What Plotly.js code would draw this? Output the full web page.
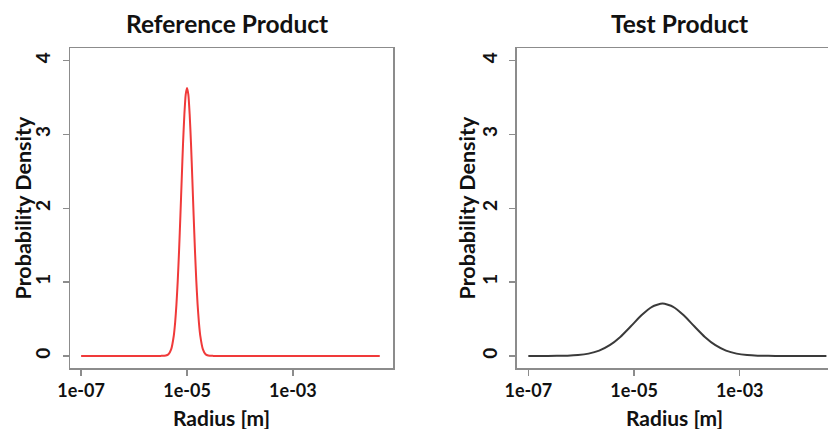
<!DOCTYPE html>
<html><head><meta charset="utf-8">
<script src="https://cdn.plot.ly/plotly-3.0.1.min.js"></script>
<style>html,body{margin:0;padding:0;background:#fff}#c{width:828px;height:429px}</style>
</head><body><div id="c"></div>
<script>
// log10(radius [m]) and probability density
const refLogR = [-7.0, -6.0, -5.6, -5.5, -5.4, -5.35, -5.3, -5.25, -5.225, -5.2, -5.175, -5.15, -5.125, -5.1, -5.075, -5.05, -5.025, -5.0,
                 -4.975, -4.95, -4.925, -4.9, -4.875, -4.85, -4.825, -4.8, -4.775, -4.75, -4.7, -4.65, -4.6, -4.5, -4.4, -4.0, -3.0, -2.0, -1.36];
const refDensity = [0, 0, 0, 0.001, 0.005, 0.023, 0.088, 0.274, 0.448, 0.695, 1.02, 1.43, 1.90, 2.40, 2.88, 3.27, 3.54, 3.63,
                    3.54, 3.27, 2.88, 2.40, 1.90, 1.43, 1.02, 0.695, 0.448, 0.274, 0.088, 0.023, 0.005, 0.001, 0, 0, 0, 0, 0];
const testLogR = [-7.0, -6.8, -6.46, -6.26, -6.06, -5.86, -5.66, -5.46, -5.26, -5.06, -4.86, -4.66, -4.46,
                  -4.26, -4.06, -3.86, -3.66, -3.46, -3.26, -3.06, -2.86, -2.66, -2.46, -2.2, -1.8, -1.36];
const testDensity = [0, 0, 0.0013, 0.0042, 0.0123, 0.0319, 0.0726, 0.146, 0.258, 0.402, 0.551, 0.666, 0.71,
                     0.666, 0.551, 0.402, 0.258, 0.146, 0.0726, 0.0319, 0.0123, 0.0042, 0.0013, 0, 0, 0];
const panelTitles = ["Reference Product", "Test Product"];
const xTickVals = [1e-7, 1e-5, 1e-3];
const xTickText = ["1e-07", "1e-05", "1e-03"];
const yTickVals = [0, 1, 2, 3, 4];
const xLabel = "Radius [m]";
const yLabel = "Probability Density";

const toR = a => a.map(v => Math.pow(10, v));
const FONT = "Lato, 'Open Sans', sans-serif";
const axisColor = "#8c8c8c";

const traces = [
  {x: toR(refLogR), y: refDensity, type: "scatter", mode: "lines", xaxis: "x", yaxis: "y",
   line: {color: "#f03a3a", width: 2, shape: "spline", smoothing: 0.6}, hoverinfo: "none"},
  {x: toR(testLogR), y: testDensity, type: "scatter", mode: "lines", xaxis: "x2", yaxis: "y2",
   line: {color: "#3a3a3a", width: 2, shape: "spline", smoothing: 0.6}, hoverinfo: "none"}
];

const xBase = {type: "log", tickvals: xTickVals, ticktext: xTickText, ticks: "outside", ticklen: 6, tickwidth: 1.5,
  tickcolor: axisColor, showline: true, linecolor: axisColor, linewidth: 1.5, showgrid: false, zeroline: false,
  tickfont: {family: FONT, size: 18, color: "#111", weight: "bold"}, fixedrange: true};
const yBase = {range: [-0.163, 4.17], tickvals: yTickVals, ticks: "outside", ticklen: 6, tickwidth: 1.5,
  tickcolor: axisColor, showline: true, linecolor: axisColor, linewidth: 1.5, showgrid: false, zeroline: false,
  tickangle: -90, ticklabelstandoff: 5, tickfont: {family: FONT, size: 19, color: "#111", weight: "bold"}, fixedrange: true};

const yDom = [1 - 368/429, 1 - 48/429];
const layout = {
  width: 828, height: 429, margin: {l: 0, r: 0, t: 0, b: 0},
  paper_bgcolor: "#fff", plot_bgcolor: "#fff", showlegend: false,
  xaxis: Object.assign({}, xBase, {domain: [70/828, 393/828], range: [-7.21, -1.11], mirror: true, anchor: "y"}),
  yaxis: Object.assign({}, yBase, {domain: yDom, mirror: true, anchor: "x"}),
  xaxis2: Object.assign({}, xBase, {domain: [516.7/828, 1], range: [-7.22, -1.33], mirror: true, anchor: "y2"}),
  yaxis2: Object.assign({}, yBase, {domain: yDom, mirror: false, anchor: "x2"}),
  annotations: [
    {text: panelTitles[0], x: 226.5/828, y: 1 - 24/429},
    {text: panelTitles[1], x: 679.5/828, y: 1 - 24/429},
    {text: xLabel, x: 221/828, y: 1 - 417/429, size: 21},
    {text: xLabel, x: 674.5/828, y: 1 - 417/429, size: 21},
    {text: yLabel, x: 22/828, y: 1 - 207.5/429, size: 21.5, angle: -90},
    {text: yLabel, x: 466/828, y: 1 - 207.5/429, size: 21.5, angle: -90}
  ].map(a => ({text: a.text, x: a.x, y: a.y, xref: "paper", yref: "paper", xanchor: "center", yanchor: "middle",
    showarrow: false, textangle: a.angle || 0,
    font: {family: FONT, size: a.size || 24.5, color: "#111", weight: "bold"}}))
};

Plotly.newPlot("c", traces, layout, {staticPlot: true, displayModeBar: false});
</script></body></html>
